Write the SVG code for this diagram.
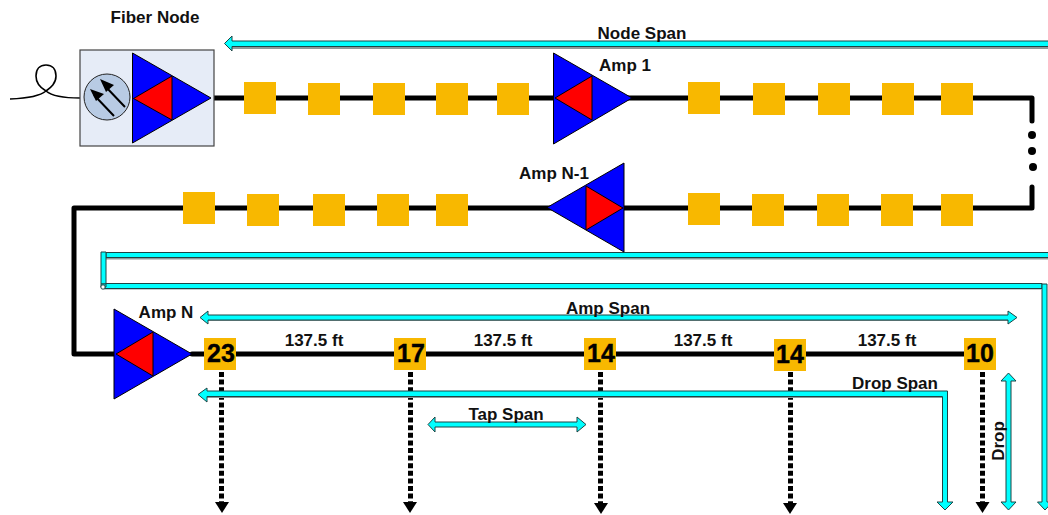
<svg xmlns="http://www.w3.org/2000/svg" width="1048" height="515" viewBox="0 0 1048 515">
<style>
text{font-family:"Liberation Sans",Arial,sans-serif;font-weight:bold;fill:#111;text-anchor:middle}
.l{font-size:17px}
.n{font-size:25px;fill:#000;stroke:#000;stroke-width:.4}
.w{fill:none;stroke:#000;stroke-width:5;stroke-linejoin:round;stroke-linecap:round}
.t{fill:#f8b800}
.b{fill:#0000ff;stroke:#000;stroke-width:1}
.r{fill:#ff0000;stroke:#000;stroke-width:1}
.c{fill:#00ffff;stroke:#1c4444;stroke-width:1}
.s{fill:#8c9a9a}
.d{fill:none;stroke:#000;stroke-width:5;stroke-dasharray:5 2.6}
.h{fill:#000}
</style>
<defs>
<rect id="tap" class="t" width="32" height="32"/>
<path id="head" class="h" d="M-7 0H7L0 11Z"/>
</defs>
<g id="connectors">
<path class="w" d="M214 98H1032V121"/>
<path class="w" d="M1032 187V208H74V354H116"/>
<path class="w" d="M192 354H966"/>
<circle class="h" cx="1032" cy="135" r="4"/>
<circle class="h" cx="1032" cy="151" r="4"/>
<circle class="h" cx="1033" cy="167" r="4"/>
<path d="M10 99C30 98 40 96 46 91C39 87 36 83 36 76C36 69 40 65 46 65C52 65 56 69 56 76C56 84 50 88 46 91C52 96 64 98 80 98" fill="none" stroke="#000" stroke-width="1.6"/>
<g id="drops">
<path class="d" d="M221.500 372V503"/><use href="#head" x="222" y="502"/>
<path class="d" d="M410.500 372V503"/><use href="#head" x="410" y="502"/>
<path class="d" d="M600.500 372V503"/><use href="#head" x="601" y="503"/>
<path class="d" d="M790.500 372V503"/><use href="#head" x="790" y="503"/>
<path class="d" d="M982.500 372V503"/><use href="#head" x="982.500" y="502"/>
</g>
<g id="spans">
<path class="s" d="M232 47H1048V49H232Z"/>
<path class="c" d="M224.500 43.500L232 36V41H1049V46.500H232V51Z"/>
<path class="s" d="M106 258H1048V259.500H106Z"/>
<path class="c" d="M106 252.500H1049V257.500H106Z"/>
<path class="s" d="M104 288.500H1041V289.500H104Z"/>
<path class="c" d="M104 283.500H1042V288.500H104Z"/>
<path class="c" d="M101 252V284H106V252Z"/>
<path class="c" d="M1042 284V502H1037.500L1045 510L1052.500 502H1047V284Z"/>
<path class="c" d="M101 284H106V287H101Z"/>
<circle cx="103" cy="287" r="2.200" fill="#fff" stroke="#1c4444"/>
<path class="s" d="M208 320H1008V321H208Z"/>
<path class="c" d="M200 317.500L208 311V315H1008V311L1017 317.500L1008 324V320H208V324Z"/>
<path class="s" d="M206 396.500H942V398H206Z"/>
<path class="c" d="M198 394.500L207 388V391H947.500V502H953L945 510L937 502H942.500V396.500H207V402Z"/>
<path class="c" d="M428 424.500L435 417V422H577V417L586 424.500L577 432V427H435V432Z"/>
<path class="c" d="M1008.500 373L1016 381H1011V502H1016L1008.500 510L1001 502H1006V381H1001Z"/>
</g>
</g>
<g id="fiber-node">
<rect x="80" y="50" width="134" height="96" fill="#e6ecf7" stroke="#444" stroke-width="1.200"/>
<circle cx="107" cy="97" r="23" fill="#b8cbe4" stroke="#222" stroke-width="1"/>
<path d="M114 116L94 95M125 107L105 86" stroke="#000" stroke-width="2" fill="none"/>
<path class="h" d="M90 89L104 94L96 101ZM100 79L114 85L106 92Z"/>
<path class="b" d="M132.500 53V143L211 98Z"/>
<path class="r" d="M133.500 98.500L172 76V120Z"/>
<text class="l" x="155" y="23">Fiber Node</text>
</g>
<g id="amp-1">
<path class="b" d="M553.500 53V144L632 98Z"/>
<path class="r" d="M555 98L592 76V120Z"/>
<text class="l" x="625" y="71">Amp 1</text>
</g>
<g id="amp-n-1">
<path class="b" d="M547 207.500L624 163V252Z"/>
<path class="r" d="M586 186V230L623 208Z"/>
<text class="l" x="554" y="179">Amp N-1</text>
</g>
<g id="amp-n">
<path class="b" d="M114 309V399L192 354Z"/>
<path class="r" d="M116 354L153 332V376Z"/>
<text class="l" x="166" y="318">Amp N</text>
</g>
<g id="taps-row-1">
<use href="#tap" x="244" y="82"/><use href="#tap" x="308" y="83"/><use href="#tap" x="373" y="83"/><use href="#tap" x="436" y="83"/><use href="#tap" x="497" y="83"/>
<use href="#tap" x="688" y="82"/><use href="#tap" x="753" y="83"/><use href="#tap" x="818" y="83"/><use href="#tap" x="882" y="83"/><use href="#tap" x="941" y="83"/>
</g>
<g id="taps-row-2">
<use href="#tap" x="183" y="192"/><use href="#tap" x="247" y="194"/><use href="#tap" x="313" y="194"/><use href="#tap" x="377" y="194"/><use href="#tap" x="436" y="194"/>
<use href="#tap" x="688" y="193"/><use href="#tap" x="752" y="194"/><use href="#tap" x="817" y="194"/><use href="#tap" x="881" y="194"/><use href="#tap" x="941" y="194"/>
</g>
<g id="tap-23"><use href="#tap" x="204" y="338"/><text class="n" x="221" y="362">23</text></g>
<g id="tap-17"><use href="#tap" x="394" y="338"/><text class="n" x="411" y="362">17</text></g>
<g id="tap-14a"><use href="#tap" x="584" y="338"/><text class="n" x="601" y="362">14</text></g>
<g id="tap-14b"><use href="#tap" x="774" y="339"/><text class="n" x="790" y="363">14</text></g>
<g id="tap-10"><use href="#tap" x="964" y="338"/><text class="n" x="980" y="362">10</text></g>
<g id="labels">
<text class="l" x="642" y="39">Node Span</text>
<text class="l" x="608" y="314">Amp Span</text>
<text class="l" x="314" y="346">137.5 ft</text>
<text class="l" x="503" y="346">137.5 ft</text>
<text class="l" x="703" y="346">137.5 ft</text>
<text class="l" x="887" y="346">137.5 ft</text>
<text class="l" x="895" y="389">Drop Span</text>
<text class="l" x="506" y="420">Tap Span</text>
<text class="l" transform="translate(1004 441) rotate(-90)">Drop</text>
</g>
</svg>
